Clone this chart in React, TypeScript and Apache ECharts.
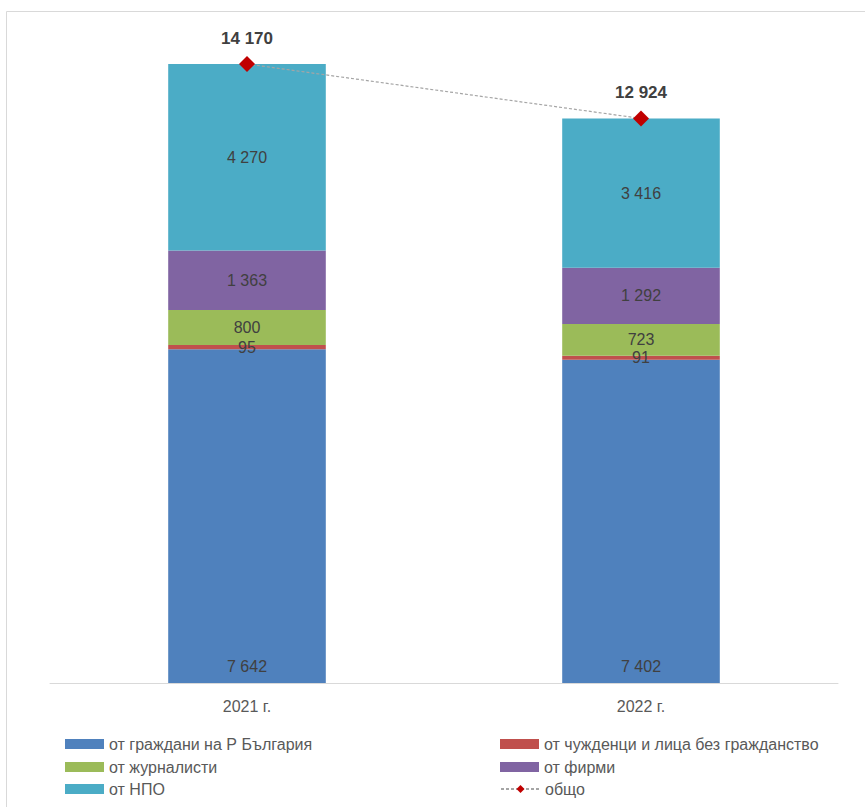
import React, { useEffect, useRef } from "react";
import * as echarts from "echarts";

const categories = ["2021 г.", "2022 г."];
const seriesNames = [
  "от граждани на Р България",
  "от чужденци и лица без гражданство",
  "от журналисти",
  "от фирми",
  "от НПО",
];
const citizens = [7642, 7402];
const foreigners = [95, 91];
const journalists = [800, 723];
const firms = [1363, 1292];
const ngos = [4270, 3416];
const totals = [14170, 12924];
const totalName = "общо";
const colors = ["#4F81BD", "#C0504D", "#9BBB59", "#8064A2", "#4BACC6"];

const fmt = (v: number) => String(v).replace(/\B(?=(\d{3})+(?!\d))/g, " ");
const FONT = "'Liberation Sans Narrow', 'Liberation Sans', sans-serif";

export default function App() {
  const ref = useRef<HTMLDivElement>(null);
  useEffect(() => {
    if (!ref.current) return;
    const chart = echarts.init(ref.current, null, { renderer: "svg" });
    const values = [citizens, foreigners, journalists, firms, ngos];
    const barSeries = values.map((arr, i) => ({
      name: seriesNames[i],
      type: "bar",
      stack: "total",
      barWidth: "40%",
      itemStyle: { color: colors[i] },
      label: {
        show: true,
        position: i === 0 ? "insideBottom" : "inside",
        distance: 9,
        color: "#404040",
        fontFamily: FONT,
        fontSize: 16,
        formatter: (p: any) => fmt(p.value),
      },
      data: arr,
    }));
    const legendPos = [
      { left: 65, top: 736 },
      { left: 500, top: 736 },
      { left: 65, top: 759 },
      { left: 500, top: 759 },
      { left: 65, top: 781 },
      { left: 500, top: 781 },
    ];
    const legendNames = [...seriesNames, totalName];
    chart.setOption({
      animation: false,
      backgroundColor: "#ffffff",
      graphic: [
        {
          type: "rect",
          shape: { x: 6.5, y: 11.5, width: 900, height: 900 },
          style: { fill: "none", stroke: "#D9D9D9", lineWidth: 1 },
          silent: true,
        },
      ],
      legend: legendPos.map((p, i) => ({
        data: [
          i < 5
            ? { name: legendNames[i], icon: "rect" }
            : { name: legendNames[i] },
        ],
        left: p.left,
        top: p.top,
        padding: 0,
        itemWidth: 39,
        itemHeight: 10,
        itemGap: 4,
        textStyle: { color: "#595959", fontFamily: FONT, fontSize: 16 },
        selectedMode: false,
      })),
      grid: { left: 50, right: 27, top: 64, bottom: 124 },
      xAxis: {
        type: "category",
        data: categories,
        axisLine: { lineStyle: { color: "#D9D9D9" } },
        axisTick: { show: false },
        axisLabel: {
          color: "#595959",
          fontFamily: FONT,
          fontSize: 16,
          margin: 15,
        },
      },
      yAxis: {
        type: "value",
        min: 0,
        max: Math.max(...totals),
        show: false,
        splitLine: { show: false },
      },
      series: [
        ...barSeries,
        {
          name: totalName,
          type: "line",
          data: totals,
          symbol: "diamond",
          symbolSize: 16,
          itemStyle: { color: "#C00000" },
          lineStyle: { color: "#A5A5A5", width: 1.2, type: [3, 2] },
          z: 10,
          label: {
            show: true,
            position: "top",
            distance: 9,
            color: "#404040",
            fontFamily: FONT,
            fontWeight: "bold",
            fontSize: 17,
            formatter: (p: any) => fmt(p.value),
          },
        },
      ],
    });
    return () => chart.dispose();
  }, []);
  return (
    <div
      ref={ref}
      style={{ position: "fixed", left: 0, top: 0, width: 865, height: 807 }}
    />
  );
}
